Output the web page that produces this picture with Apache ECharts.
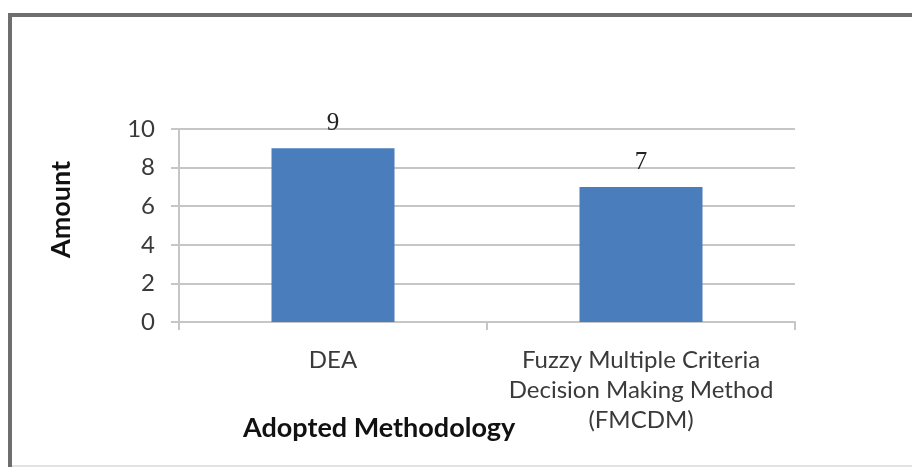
<!DOCTYPE html>
<html>
<head>
<meta charset="utf-8">
<script src="https://cdn.jsdelivr.net/npm/echarts@6/dist/echarts.min.js"></script>
<style>
  html, body { margin: 0; padding: 0; background: #fff; }
  #chart { width: 912px; height: 467px; }
</style>
</head>
<body>
<div id="chart"></div>
<script>
// data
var methods = ['DEA', 'Fuzzy Multiple Criteria\nDecision Making Method\n(FMCDM)'];
var amounts = [9, 7];
var yTicks = [0, 2, 4, 6, 8, 10];

var chart = echarts.init(document.getElementById('chart'));
var gridGray = '#c6c6c6';
var labelFont = 'Lato, "Open Sans", sans-serif';

chart.setOption({
  animation: false,
  grid: { left: 179, right: 117, top: 129, bottom: 145 },
  xAxis: {
    type: 'category',
    data: methods,
    axisLine: { show: true, lineStyle: { color: gridGray, width: 2 } },
    axisTick: { show: true, length: 8, lineStyle: { color: gridGray, width: 2 } },
    axisLabel: {
      color: '#3a3a3a',
      fontFamily: labelFont,
      fontSize: 24,
      lineHeight: 30,
      margin: 23,
      interval: 0
    }
  },
  yAxis: {
    type: 'value',
    min: yTicks[0],
    max: yTicks[yTicks.length - 1],
    interval: 2,
    name: 'Amount',
    nameLocation: 'middle',
    nameGap: 104,
    nameRotate: 90,
    // the name sits a bit above the middle of the axis in the original
    nameTextStyle: { color: '#111', fontFamily: labelFont, fontSize: 27, fontWeight: 'bold', padding: [0, 0, 0, 32] },
    axisLine: { show: true, lineStyle: { color: gridGray, width: 2 } },
    axisTick: { show: true, length: 8, lineStyle: { color: gridGray, width: 2 } },
    axisLabel: { color: '#3a3a3a', fontFamily: labelFont, fontSize: 24, margin: 24 },
    splitLine: { show: true, lineStyle: { color: gridGray, width: 2 } }
  },
  series: [{
    type: 'bar',
    data: amounts,
    barWidth: 123,
    itemStyle: { color: '#4a7dbb' },
    label: {
      show: true,
      position: 'top',
      distance: 12,
      color: '#222',
      fontFamily: '"Liberation Serif", serif',
      fontSize: 25
    }
  }],
  graphic: [
    // outer frame: dark top and left edges, light bottom edge
    { type: 'line', shape: { x1: 8, y1: 15, x2: 912, y2: 15 }, style: { stroke: '#6e6e6e', lineWidth: 4 } },
    { type: 'line', shape: { x1: 10, y1: 13, x2: 10, y2: 467 }, style: { stroke: '#6e6e6e', lineWidth: 4 } },
    { type: 'line', shape: { x1: 12, y1: 466, x2: 912, y2: 466 }, style: { stroke: '#d8d8d8', lineWidth: 1.5 } },
    {
      type: 'text',
      left: 243,
      top: 415,
      style: {
        text: 'Adopted Methodology',
        fill: '#111',
        font: 'bold 27px Lato, "Open Sans", sans-serif'
      }
    }
  ]
});
</script>
</body>
</html>
